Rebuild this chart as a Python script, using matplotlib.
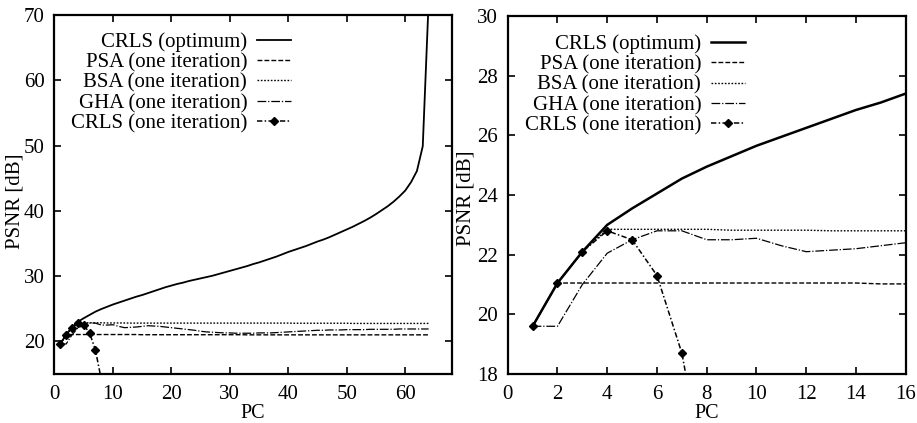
import matplotlib
matplotlib.use("Agg")
import matplotlib.pyplot as plt

plt.rcParams['font.family'] = ['Liberation Serif', 'DejaVu Serif']

# ---------------- data ----------------
pc_full = list(range(1, 65))
crls_opt = [19.6, 21.05, 22.1, 23.0, 23.55, 24.05, 24.55, 24.95, 25.3, 25.65,
            25.95, 26.25, 26.55, 26.85, 27.1, 27.4, 27.7, 28.0, 28.3, 28.55,
            28.8, 29.0, 29.25, 29.45, 29.65, 29.85, 30.05, 30.3, 30.55, 30.8,
            31.05, 31.3, 31.55, 31.85, 32.1, 32.4, 32.7, 33.0, 33.35, 33.7,
            34.0, 34.3, 34.6, 34.95, 35.3, 35.6, 35.95, 36.35, 36.75, 37.15,
            37.55, 38.0, 38.45, 38.95, 39.5, 40.1, 40.7, 41.4, 42.2, 43.1,
            44.4, 46.1, 49.9, 72.0]
psa = [19.6, 21.05, 21.05, 21.05, 21.05, 21.05, 21.05, 21.05, 21.05, 21.05,
       21.05, 21.05, 21.05, 21.05, 21.02, 21.02, 21.02, 21.02, 21.02, 21.02,
       21.02, 21.02, 21.02, 21.02, 21.02, 21.02, 21.02, 21.02, 21.02, 21.02,
       21.02, 21.02, 21.0, 21.0, 21.0, 21.0, 21.0, 21.0, 21.0, 21.0,
       21.0, 21.0, 21.0, 21.0, 21.0, 21.0, 21.0, 21.0, 21.0, 21.0,
       21.0, 21.0, 21.0, 21.0, 21.0, 21.0, 21.0, 21.0, 21.0, 21.0,
       21.0, 21.0, 21.0, 21.0]
bsa = [19.6, 21.05, 22.1, 22.85, 22.85, 22.85, 22.85, 22.85, 22.82, 22.82,
       22.82, 22.82, 22.8, 22.8, 22.8, 22.8, 22.8, 22.8, 22.8, 22.8,
       22.8, 22.8, 22.8, 22.8, 22.8, 22.8, 22.8, 22.8, 22.8, 22.8,
       22.8, 22.8, 22.8, 22.8, 22.8, 22.8, 22.8, 22.8, 22.8, 22.8,
       22.78, 22.78, 22.78, 22.78, 22.78, 22.78, 22.78, 22.78, 22.78, 22.78,
       22.75, 22.75, 22.75, 22.75, 22.75, 22.75, 22.75, 22.75, 22.75, 22.75,
       22.75, 22.75, 22.75, 22.75]
gha = [19.6, 19.6, 21.0, 22.05, 22.5, 22.8, 22.8, 22.5, 22.5, 22.55,
       22.3, 22.1, 22.15, 22.2, 22.3, 22.4, 22.35, 22.3, 22.2, 22.1,
       22.0, 21.9, 21.8, 21.7, 21.55, 21.45, 21.4, 21.35, 21.3, 21.3,
       21.25, 21.25, 21.25, 21.25, 21.3, 21.3, 21.3, 21.35, 21.4, 21.45,
       21.5, 21.55, 21.6, 21.65, 21.7, 21.7, 21.75, 21.75, 21.75, 21.8,
       21.8, 21.8, 21.8, 21.85, 21.85, 21.85, 21.85, 21.85, 21.9, 21.9,
       21.9, 21.9, 21.9, 21.9]
pc_iter = [1, 2, 3, 4, 5, 6, 7, 8]
crls_iter = [19.6, 21.05, 22.1, 22.8, 22.5, 21.3, 18.7, 14.2]

labels = ["CRLS (optimum)", "PSA (one iteration)", "BSA (one iteration)",
          "GHA (one iteration)", "CRLS (one iteration)"]

left_xticks = [0, 10, 20, 30, 40, 50, 60]
left_yticks = [20, 30, 40, 50, 60, 70]
right_xticks = [0, 2, 4, 6, 8, 10, 12, 14, 16]
right_yticks = [18, 20, 22, 24, 26, 28, 30]

# ---------------- figure ----------------
fig = plt.figure(figsize=(9.17, 4.23), dpi=100)
axL = fig.add_axes([0.0594, 0.1158, 0.4335, 0.8487])
axR = fig.add_axes([0.5537, 0.1158, 0.4340, 0.8464])

FS = 15


def draw(ax, n, opt_lw):
    x = pc_full[:n]
    l1, = ax.plot(x, crls_opt[:n], color='black', lw=opt_lw, ls='-')
    l2, = ax.plot(x, psa[:n], color='black', lw=1.0, ls=(0, (3.5, 1.5)))
    l3, = ax.plot(x, bsa[:n], color='black', lw=1.0, ls=(0, (1.2, 1.2)))
    l4, = ax.plot(x, gha[:n], color='black', lw=0.9, ls=(0, (7, 1.5, 1, 1.5)))
    l5, = ax.plot(pc_iter, crls_iter, color='black', lw=1.1,
                  ls=(0, (3.5, 1.5, 1, 1.5)), marker='D', markersize=4.5,
                  markerfacecolor='black', markeredgecolor='black')
    return [l1, l2, l3, l4, l5]


handlesL = draw(axL, 64, 1.3)
handlesR = draw(axR, 16, 1.8)

axL.set_xlim(0, 68)
axL.set_ylim(15, 70)
axL.set_xticks(left_xticks)
axL.set_yticks(left_yticks)

axR.set_xlim(0, 16)
axR.set_ylim(18, 30)
axR.set_xticks(right_xticks)
axR.set_yticks(right_yticks)

for ax in (axL, axR):
    ax.tick_params(direction='in', top=True, right=True, length=5, width=1.2,
                   labelsize=FS)
    ax.tick_params(axis='x', pad=8)
    ax.tick_params(axis='y', pad=7)
    for s in ax.spines.values():
        s.set_linewidth(1.6)
    ax.set_xlabel("PC", fontsize=14.5, labelpad=0)
    ax.set_ylabel("PSNR [dB]", fontsize=FS)

axL.yaxis.set_label_coords(-0.075, 0.48)
axR.yaxis.set_label_coords(-0.081, 0.49)

axL.legend(handlesL, labels, loc='upper right', markerfirst=False,
           bbox_to_anchor=(0.3173, 0.924), bbox_transform=fig.transFigure,
           frameon=False, fontsize=FS, handlelength=1.65, handletextpad=0.45,
           labelspacing=0.04, borderpad=0, borderaxespad=0)
axR.legend(handlesR, labels, loc='upper right', markerfirst=False,
           bbox_to_anchor=(0.8124, 0.919), bbox_transform=fig.transFigure,
           frameon=False, fontsize=FS, handlelength=1.65, handletextpad=0.45,
           labelspacing=0.04, borderpad=0, borderaxespad=0)

fig.savefig("out.png", dpi=100)
